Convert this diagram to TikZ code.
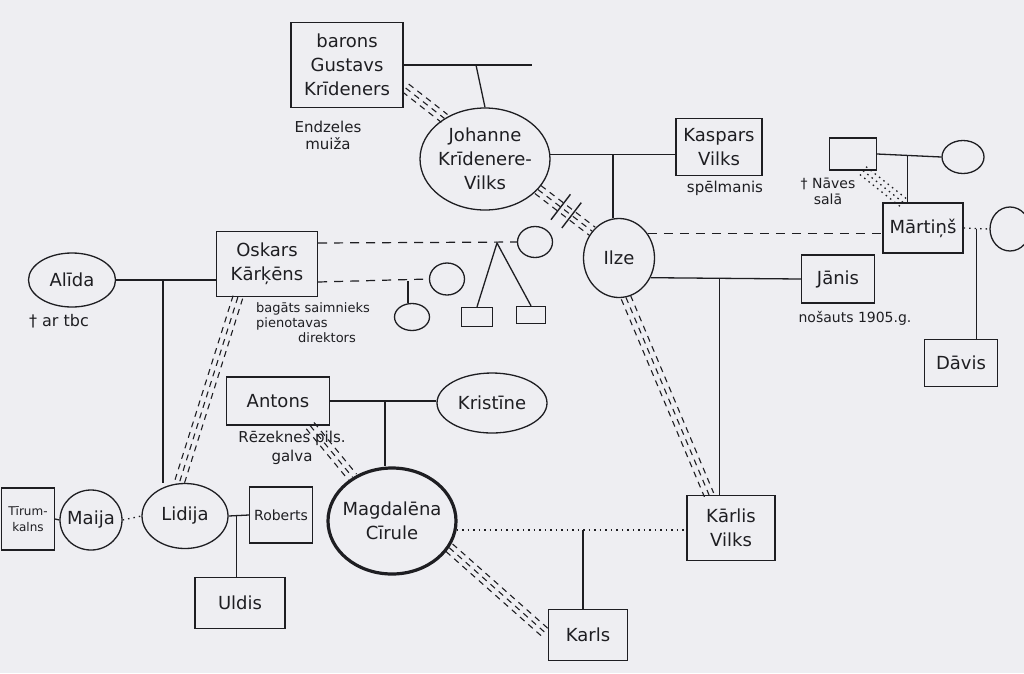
\documentclass[tikz,border=0pt]{standalone}
\usepackage{fontspec}
\setmainfont{DejaVu Sans}
\usetikzlibrary{shapes.geometric,calc}
\definecolor{inkc}{RGB}{30,30,34}
\definecolor{paper}{RGB}{238,238,242}
\newcommand\pname{\fontsize{18}{24}\selectfont}
\newcommand\pnote{\fontsize{14}{16}\selectfont}
\newcommand\tripline[3][closebond]{%
  \draw[#1] (#2) -- (#3);
  \draw[#1] ($(#2)!5pt!90:(#3)$) -- ($(#3)!5pt!-90:(#2)$);
  \draw[#1] ($(#2)!5pt!-90:(#3)$) -- ($(#3)!5pt!90:(#2)$);}
\begin{document}
\begin{tikzpicture}[x=1pt,y=-1pt,
  person/.style={draw=inkc, line width=1.3pt, align=center, font=\pname, inner sep=1pt, text=inkc},
  male/.style={person, rectangle},
  female/.style={person, ellipse, inner sep=-12pt},
  annot/.style={font=\pnote, align=center, inner sep=0pt, text=inkc},
  rel/.style={draw=inkc, line width=1.3pt},
  tiedash/.style={draw=inkc, line width=1.2pt, dash pattern=on 9pt off 7pt},
  dotbond/.style={draw=inkc, line width=1.3pt, dash pattern=on 1.5pt off 4pt},
  closebond/.style={draw=inkc, line width=1.1pt, dash pattern=on 6pt off 5pt},
  cutmark/.style={draw=inkc, line width=1.4pt}]
\path[use as bounding box, fill=paper] (0,0) rectangle (1024,673);

% persons
\node[male, minimum width=112pt, minimum height=85pt] (bg) at (347,65) {barons\\Gustavs\\Krīdeners};
\node[annot, font=\fontsize{15}{17}\selectfont] (bgn) at (328,135) {Endzeles\\muiža};
\node[female, minimum width=130pt, minimum height=102pt] (jo) at (485,159) {Johanne\\Krīdenere-\\Vilks};
\node[male, minimum width=86pt, minimum height=57pt] (kv) at (719,147) {Kaspars\\Vilks};
\node[annot, font=\fontsize{15}{17}\selectfont] (kvn) at (725,188) {spēlmanis};
\node[female, minimum width=71pt, minimum height=79pt] (il) at (619,258) {Ilze};
\node[male, minimum width=47pt, minimum height=32pt] (sq) at (853,154) {};
\node[female, minimum width=42pt, minimum height=33pt] (c1) at (963,157) {};
\node[annot] (sqn) at (828,191) {† Nāves\\salā};
\node[male, minimum width=80pt, minimum height=50pt] (ma) at (923,228) {Mārtiņš};
\node[female, minimum width=40pt, minimum height=44pt] (c2) at (1010,229) {};
\node[male, minimum width=73pt, minimum height=47pt] (da) at (961,363) {Dāvis};
\node[male, minimum width=73pt, minimum height=48pt] (ja) at (838,279) {Jānis};
\node[annot] (jan) at (855,318) {nošauts 1905.g.};
\node[male, minimum width=88pt, minimum height=65pt] (kl) at (731,528) {Kārlis\\Vilks};
\node[male, minimum width=79pt, minimum height=51pt] (ka) at (588,635) {Karls};
\node[female, line width=3.2pt, minimum width=128pt, minimum height=106pt] (mc) at (392,521) {Magdalēna\\Cīrule};
\node[male, minimum width=103pt, minimum height=48pt] (an) at (278,401) {Antons};
\node[annot, font=\fontsize{15}{19}\selectfont] (ann) at (292,448) {Rēzeknes pils.\\galva};
\node[female, minimum width=110pt, minimum height=60pt] (kr) at (492,403) {Kristīne};
\node[male, minimum width=101pt, minimum height=65pt] (os) at (267,264) {Oskars\\Kārķēns};
\node[annot, align=left, anchor=north west, font=\fontsize{13}{15}\selectfont] (osn) at (256,302) {bagāts saimnieks\\pienotavas\\\hspace*{42pt}direktors};
\node[female, minimum width=87pt, minimum height=54pt] (al) at (72,280) {Alīda};
\node[annot, font=\fontsize{16}{18}\selectfont] (aln) at (59,321) {† ar tbc};
\node[female, minimum width=35pt, minimum height=31pt] (c3) at (535,242) {};
\node[female, minimum width=35pt, minimum height=32pt] (c4) at (447,279) {};
\node[female, minimum width=35pt, minimum height=27pt] (c5) at (412,317) {};
\node[male, minimum width=31pt, minimum height=19pt] (s1) at (477,317) {};
\node[male, minimum width=29pt, minimum height=17pt] (s2) at (531,315) {};
\node[female, minimum width=86pt, minimum height=65pt] (li) at (185,516) {Lidija};
\node[male, minimum width=63pt, minimum height=56pt, font=\fontsize{14}{18}\selectfont] (ro) at (281,515) {Roberts};
\node[male, minimum width=90pt, minimum height=51pt] (ul) at (240,603) {Uldis};
\node[female, minimum width=62pt, minimum height=60pt] (mj) at (91,520) {Maija};
\node[male, minimum width=53pt, minimum height=62pt, font=\fontsize{12}{16}\selectfont] (ti) at (28,519) {Tīrum-\\kalns};

% Gustavs + Johanne
\coordinate (bgend) at (532,65);
\draw[rel] (bg.east) -- (bgend);
\coordinate (jc) at (476,65);
\draw[rel] (jc) -- (jo.north);
\coordinate (t1) at ([shift={(2,23)}]bg.east);
\tripline{t1}{jo.135}

% Johanne + Kaspars -> Ilze
\draw[rel] (jo.4) -- (jo.4 -| kv.west);
\coordinate (ic) at ($(jo.4)!0.5!(jo.4 -| kv.west)$);
\draw[rel] (ic) -- (ic |- il.north);
\tripline{jo.-30}{il.135}
\coordinate (d1) at ($(jo.-30)!0.42!(il.135)$);
\coordinate (d2) at ($(jo.-30)!0.62!(il.135)$);
\draw[cutmark] ($(d1)!16pt!90:(il.135)$) -- ($(d1)!16pt!-90:(il.135)$);
\draw[cutmark] ($(d2)!16pt!90:(il.135)$) -- ($(d2)!16pt!-90:(il.135)$);

% Oskars relations
\draw[tiedash] ([shift={(0,-21)}]os.east) -- (c3.west);
\coordinate (tw) at (497,243);
\draw[rel] (s1.north) -- (tw) -- (s2.north);
\draw[tiedash] ([shift={(0,18)}]os.east) -- (c4.west);
\coordinate (oc) at (408,281);
\draw[rel] (oc) -- (oc |- c5.north);

% Ilze relations
\draw[tiedash] (il.40) -- (il.40 -| ma.west);
\draw[rel] (il.-32) -- (ja.west);
\coordinate (jc2) at ($(il.-32)!0.46!(ja.west)$);
\draw[rel] (jc2) -- (jc2 |- kl.north);
\coordinate (t3) at ([shift={(-22,0)}]kl.north);
\tripline{il.-80}{t3}

% Martins family
\draw[rel] (sq.east) -- (c1.west);
\coordinate (mc2) at ($(sq.east)!0.47!(c1.west)$);
\draw[rel] (mc2) -- (mc2 |- ma.north);
\coordinate (t4a) at ([shift={(10,0)}]sq.south);
\coordinate (t4b) at ([shift={(-20,0)}]ma.north);
\tripline[dotbond]{t4a}{t4b}
\draw[dotbond] (ma.east) -- (c2.west);
\coordinate (dc) at ($(ma.east)!0.5!(c2.west)$);
\draw[rel] (dc) -- (dc |- da.north);

% Alida + Oskars -> Lidija
\draw[rel] (al.east) -- (al.east -| os.west);
\coordinate (lc) at (163,280);
\draw[rel] (lc) -- (lc |- li.north);
\coordinate (t5) at ([shift={(22,0)}]os.south west);
\tripline{t5}{li.100}

% Antons + Kristine -> Magdalena
\draw[rel] (an.east) -- (an.east -| kr.west);
\coordinate (ac) at (385,401);
\draw[rel] (ac) -- (ac |- mc.north);
\coordinate (t6) at ([shift={(-20,0)}]an.south east);
\tripline{t6}{mc.132}

% Magdalena + Karlis -> Karls
\draw[dotbond] (mc.-8) -- (mc.-8 -| kl.west);
\coordinate (kc) at ($(mc.-8)!0.55!(mc.-8 -| kl.west)$);
\draw[rel] (kc) -- (kc |- ka.north);
\tripline{mc.-25}{ka.west}

% Lidija family
\draw[rel] (li.east) -- (ro.west);
\coordinate (uc) at ($(li.east)!0.4!(ro.west)$);
\draw[rel] (uc) -- (uc |- ul.north);
\draw[dotbond] (mj.east) -- (li.west);
\draw[rel] (ti.east) -- (mj.west);
\end{tikzpicture}
\end{document}
